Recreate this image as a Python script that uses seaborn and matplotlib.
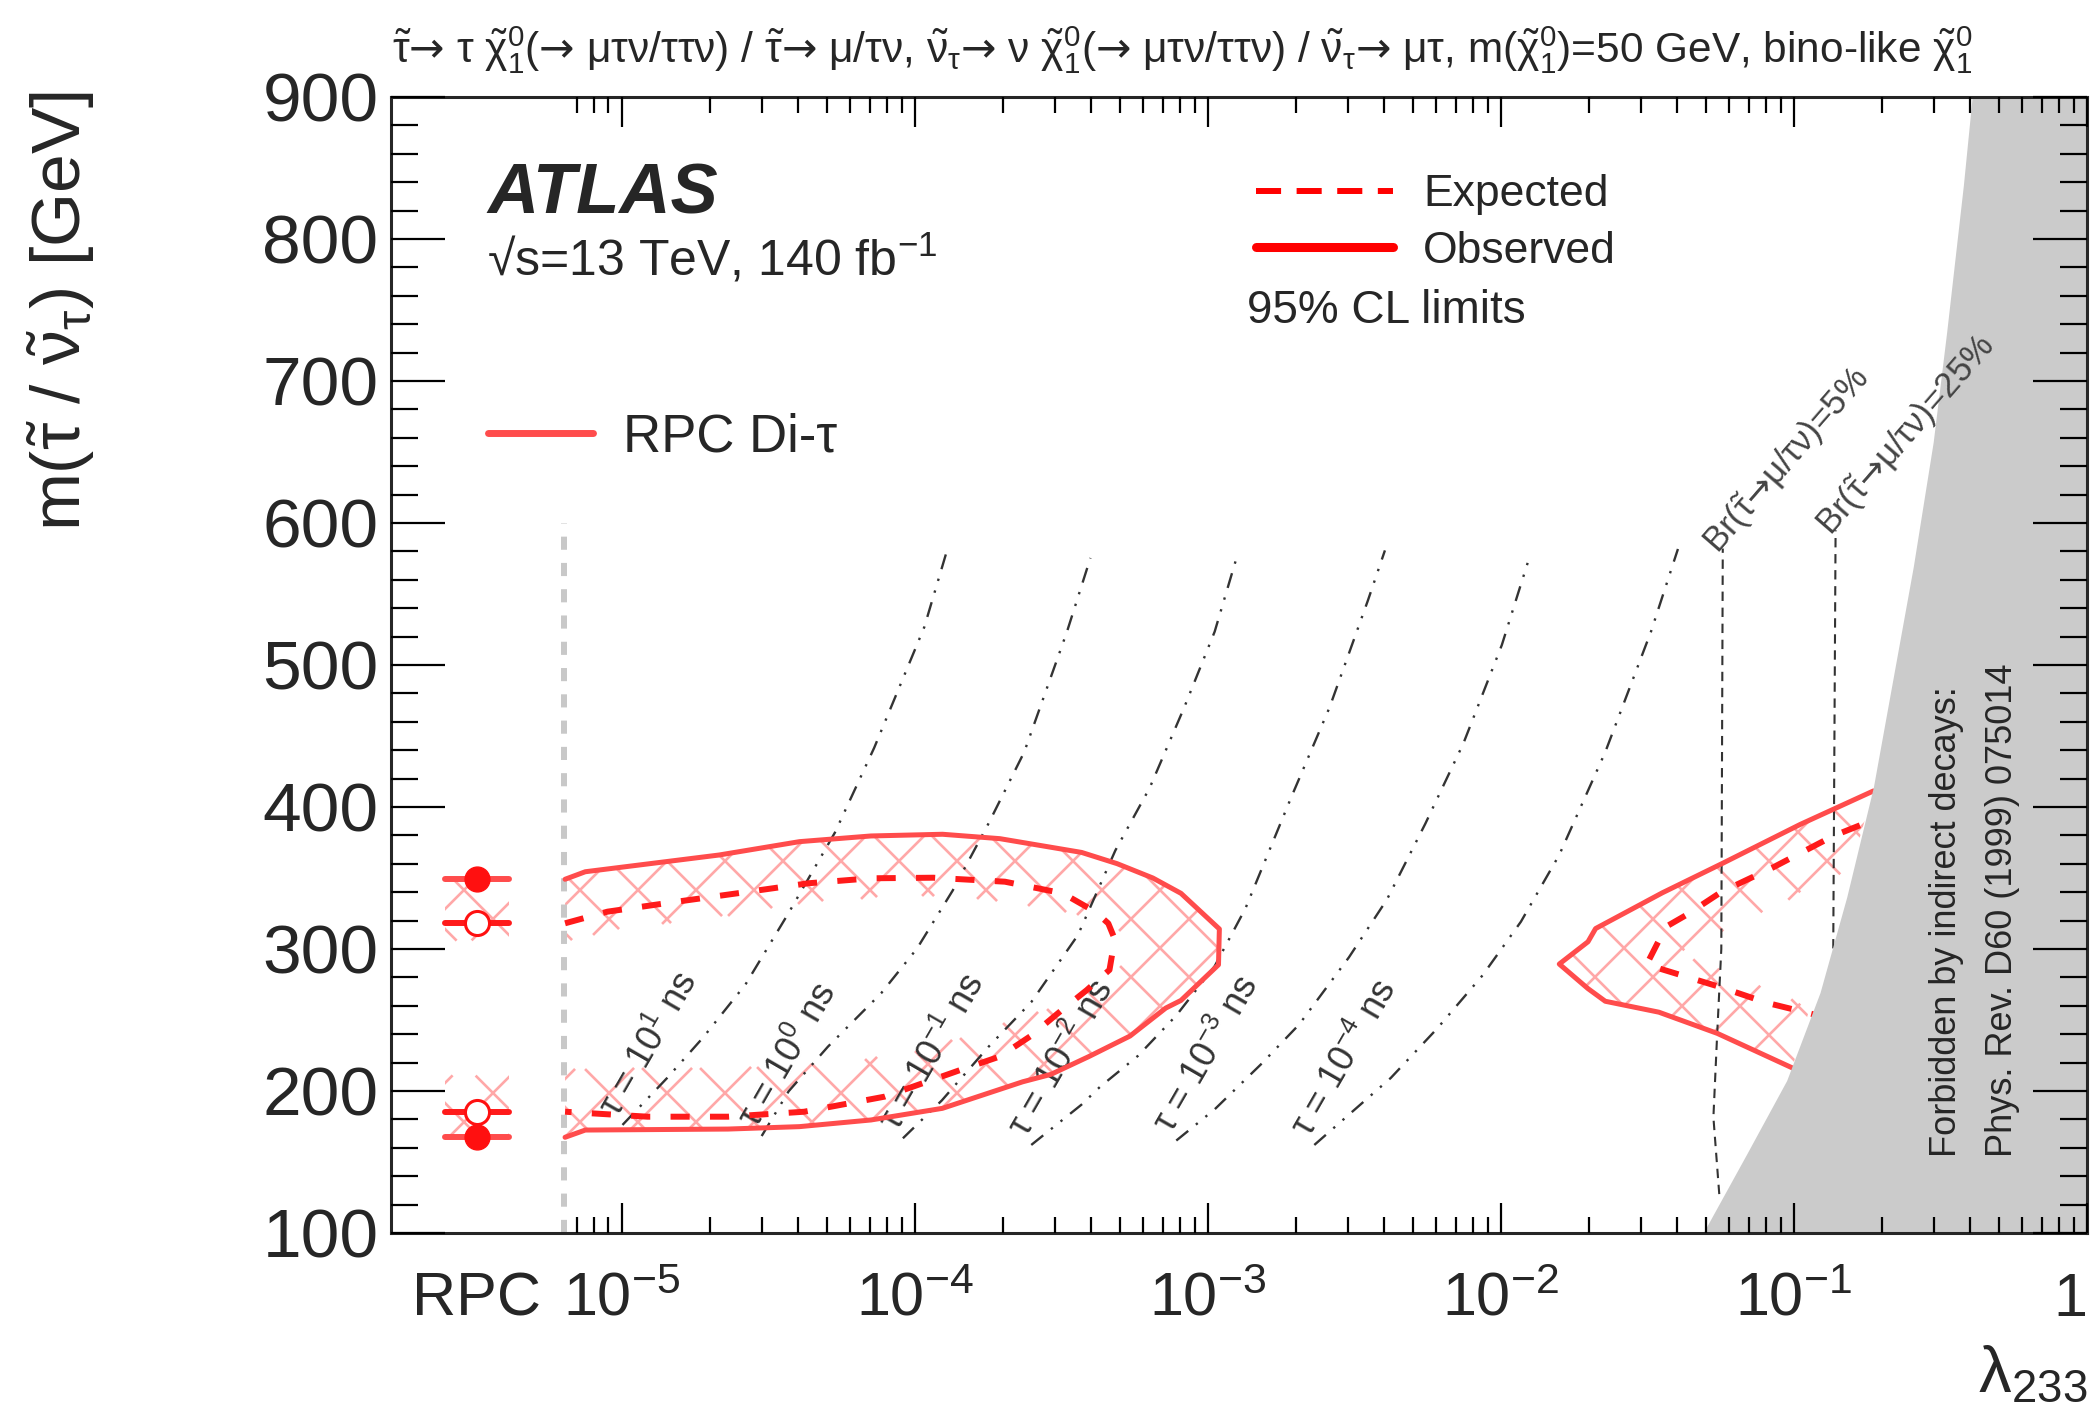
import numpy as np
import matplotlib
matplotlib.use("Agg")
import matplotlib.pyplot as plt
import seaborn as sns
from matplotlib.lines import Line2D
from matplotlib.collections import LineCollection
from matplotlib.path import Path
from matplotlib.transforms import IdentityTransform
from matplotlib.ticker import FixedLocator, NullFormatter

# ---------------------------------------------------------------------------
# Data (x: log10 of lambda_233, y: slepton / sneutrino mass in GeV)
# ---------------------------------------------------------------------------
obs_left_log_lam = [-5.194, -5.125, -4.668, -4.394, -4.150, -3.906, -3.710, -3.431,
                    -3.310, -3.188, -3.092, -2.961, -2.964, -3.092, -3.144, -3.266,
                    -3.406, -3.536, -3.632, -3.906, -4.150, -4.394, -4.638, -5.125, -5.194]
obs_left_mass = [349.1, 354.4, 366.2, 375.6, 379.6, 380.8, 377.7, 368.0,
                 360.1, 350.0, 339.2, 314.1, 288.9, 263.8, 258.4, 238.7,
                 224.3, 211.7, 206.5, 187.8, 179.6, 174.9, 173.2, 172.5, 167.4]

exp_left_log_lam = [-5.194, -5.049, -4.851, -4.607, -4.363, -4.150, -3.937, -3.693,
                    -3.495, -3.383, -3.340, -3.318, -3.336, -3.414, -3.501, -3.605,
                    -3.710, -3.845, -4.104, -4.378, -4.638, -4.912, -5.194]
exp_left_mass = [318.1, 326.3, 332.2, 339.2, 346.3, 349.8, 350.2, 347.4,
                 339.2, 326.0, 318.0, 306.9, 285.3, 271.0, 256.6, 238.7,
                 224.3, 214.8, 196.0, 185.4, 181.9, 181.9, 185.4]

obs_right_log_lam = [-0.729, -0.979, -1.246, -1.449, -1.677, -1.703, -1.801,
                     -1.703, -1.644, -1.461, -1.262, -1.006]
obs_right_mass = [411.3, 387.7, 360.1, 339.6, 314.4, 305.1, 289.4,
                  272.1, 263.2, 255.5, 240.6, 216.3]

exp_right_log_lam = [-0.775, -0.866, -1.071, -1.247, -1.366, -1.434, -1.463,
                     -1.503, -1.247, -1.093, -0.934]
exp_right_mass = [387.1, 379.6, 357.5, 340.3, 324.1, 316.0, 305.2,
                  289.0, 272.9, 262.1, 254.0]

# Prompt (RPC) di-tau limits
rpc_log_lam = -5.495
rpc_obs_mass = [349.1, 167.4]
rpc_exp_mass = [318.1, 185.4]
rpc_boundary_log_lam = -5.198
rpc_boundary_mass = [100, 600]

# Lifetime iso-lines
tau_labels = ["1", "0", "-1", "-2", "-3", "-4"]
tau_p1_log_lam = [-4.998, -4.846, -4.724, -4.578, -4.431, -4.273, -4.139, -3.968, -3.889]
tau_p1_mass = [176.1, 209.1, 237.4, 275.1, 325.4, 382.0, 441.7, 526.7, 581.7]
tau_0_log_lam = [-4.523, -4.431, -4.297, -4.115, -3.993, -3.871, -3.749, -3.627, -3.481, -3.401]
tau_0_mass = [168.3, 199.8, 231.2, 268.9, 300.3, 341.2, 388.3, 438.7, 523.5, 575.4]
tau_m1_log_lam = [-4.041, -3.908, -3.749, -3.603, -3.444, -3.316, -3.199, -3.081, -2.977, -2.898]
tau_m1_mass = [166.7, 193.4, 231.1, 262.6, 309.7, 369.4, 413.4, 470.1, 523.5, 578.5]
tau_m2_log_lam = [-3.603, -3.432, -3.369, -3.238, -3.108, -2.977, -2.872, -2.715, -2.585, -2.454, -2.396]
tau_m2_mass = [162.0, 190.3, 202.8, 224.9, 253.2, 287.9, 328.6, 407.2, 470.1, 545.5, 580.7]
tau_m3_log_lam = [-3.108, -2.977, -2.820, -2.689, -2.519, -2.389, -2.258, -2.128, -1.997, -1.906]
tau_m3_mass = [165.1, 187.1, 218.6, 246.8, 294.1, 334.9, 388.3, 444.9, 514.1, 573.8]
tau_m4_log_lam = [-2.637, -2.533, -2.376, -2.219, -2.063, -1.932, -1.801, -1.644, -1.488, -1.396]
tau_m4_mass = [162.0, 180.8, 209.2, 243.7, 281.4, 319.2, 366.3, 438.7, 523.5, 581.7]

# Branching-ratio iso-lines
br_labels = ["5%", "25%"]
br5_log_lam = [-1.255, -1.275, -1.262, -1.248, -1.243]
br5_mass = [127.4, 181.5, 240.6, 300.0, 582.0]
br25_log_lam = [-0.866, -0.858]
br25_mass = [300.4, 594.9]

# Region forbidden by indirect decays (boundary in lambda vs mass)
forbidden_mass = [100, 155.8, 207.4, 269.4, 336.6, 414.1, 491.6, 569.1, 656.9, 734.4, 837.7, 900]
forbidden_log_lam = [-1.31, -1.161, -1.025, -0.911, -0.820, -0.729, -0.661, -0.593,
                     -0.525, -0.479, -0.422, -0.392]

x_tick_labels = ["RPC", r"$10^{-5}$", r"$10^{-4}$", r"$10^{-3}$", r"$10^{-2}$", r"$10^{-1}$", "1"]

# ---------------------------------------------------------------------------
# Style
# ---------------------------------------------------------------------------
sns.set_theme(style="ticks")
plt.rcParams["font.family"] = ["Liberation Sans", "DejaVu Sans"]
plt.rcParams["mathtext.fontset"] = "custom"
plt.rcParams["mathtext.rm"] = "Liberation Sans"
plt.rcParams["mathtext.it"] = "Liberation Sans:italic"
plt.rcParams["mathtext.bf"] = "Liberation Sans:bold"
plt.rcParams["mathtext.sf"] = "Liberation Sans"
plt.rcParams["mathtext.cal"] = "DejaVu Sans"   # used for the wide arrow glyph
plt.rcParams["mathtext.default"] = "regular"

ARW = r"$\mathcal{→}$"

OBS_C = "#ff4c4c"
EXP_C = "#ff1a1a"
HATCH_C = "#ffa8a8"
LINE_C = "#333333"
GRAY_C = "#cbcbcb"

W, H = 2091, 1412
DPI = 100
fig = plt.figure(figsize=(W / DPI, H / DPI), dpi=DPI)


def fx(x):
    return x / W


def fy(y):
    return 1 - y / H


ax = fig.add_axes([fx(391), fy(1233), (2087 - 391) / W, (1233 - 97) / H])
ax.set_xscale("log")
ax.set_xlim(10 ** -5.788, 1.0)
ax.set_ylim(100, 900)
ax.autoscale(False)


def L(a):
    return 10 ** np.asarray(a, dtype=float)


def line(xlog, y, color, lw, ls=None, z=3):
    sns.lineplot(x=L(xlog), y=np.asarray(y, float), sort=False, estimator=None,
                 color=color, linewidth=lw, ax=ax, legend=False)
    ln = ax.lines[-1]
    if ls is not None:
        ln.set_linestyle(ls)
    ln.set_zorder(z)
    return ln


def seg_distance(pts, poly):
    d = np.full(len(pts), np.inf)
    for a, b in zip(poly[:-1], poly[1:]):
        ab = b - a
        t = np.clip(((pts - a) @ ab) / max(ab @ ab, 1e-9), 0, 1)
        proj = a + t[:, None] * ab
        d = np.minimum(d, np.hypot(*(pts - proj).T))
    return d


def hatch_band(polylines, polygon, width=62, spacing=58, lw=1.9):
    """Cross-hatch a band of given pixel width on the inner side of limit lines."""
    disp = [ax.transData.transform(np.column_stack([L(px), py])) for px, py in polylines]
    poly = ax.transData.transform(np.column_stack([L(polygon[0]), polygon[1]]))
    allp = np.vstack(disp)
    xmin, ymin = allp.min(0) - width
    xmax, ymax = allp.max(0) + width
    xs = np.arange(xmin, xmax, 1.0)
    segs = []
    for sgn in (1, -1):
        corners = np.array([[xmin, ymin], [xmin, ymax], [xmax, ymin], [xmax, ymax]])
        cv = corners[:, 1] - sgn * corners[:, 0]
        c0 = np.floor(cv.min() / spacing) * spacing
        for c in np.arange(c0, cv.max() + spacing, spacing):
            ys = sgn * xs + c
            ok = (ys >= ymin) & (ys <= ymax)
            if not ok.any():
                continue
            pts = np.column_stack([xs[ok], ys[ok]])
            d = np.min([seg_distance(pts, p) for p in disp], axis=0)
            idx = np.flatnonzero(d <= width)
            if idx.size < 2:
                continue
            breaks = np.flatnonzero(np.diff(idx) > 1)
            starts = np.r_[0, breaks + 1]
            ends = np.r_[breaks, idx.size - 1]
            for s, e in zip(starts, ends):
                if e > s:
                    segs.append(pts[idx[s]:idx[e] + 1])
    lc = LineCollection(segs, colors=HATCH_C, linewidths=lw, transform=IdentityTransform(),
                        zorder=1.5)
    ax.add_collection(lc, autolim=False)
    lc.set_clip_path(Path(np.vstack([poly, poly[:1]]), closed=True), IdentityTransform())


# ---------------------------------------------------------------------------
# Hatched excluded bands
# ---------------------------------------------------------------------------
hatch_band([(obs_left_log_lam, obs_left_mass)], (obs_left_log_lam, obs_left_mass))
hatch_band([(obs_right_log_lam, obs_right_mass)], (obs_right_log_lam, obs_right_mass))
rpc_x0, rpc_x1 = rpc_log_lam - 0.11, rpc_log_lam + 0.111
hatch_band([([rpc_x0, rpc_x1], [rpc_obs_mass[0]] * 2), ([rpc_x0, rpc_x1], [rpc_obs_mass[1]] * 2)],
           ([rpc_x0, rpc_x1, rpc_x1, rpc_x0],
            [rpc_obs_mass[0], rpc_obs_mass[0], rpc_obs_mass[1], rpc_obs_mass[1]]))

# ---------------------------------------------------------------------------
# Lifetime and branching-ratio iso-lines
# ---------------------------------------------------------------------------
dashdotdot = (0, (6.5, 4.2, 1.0, 4.2, 1.0, 4.2))
tau_curves = [(tau_p1_log_lam, tau_p1_mass), (tau_0_log_lam, tau_0_mass),
              (tau_m1_log_lam, tau_m1_mass), (tau_m2_log_lam, tau_m2_mass),
              (tau_m3_log_lam, tau_m3_mass), (tau_m4_log_lam, tau_m4_mass)]
for (lx, ly), lab in zip(tau_curves, tau_labels):
    line(lx, ly, LINE_C, 1.7, dashdotdot, z=2)
    ax.annotate(r"$\tau$ = $10^{%s}$ ns" % lab, xy=(L(lx[0]), ly[0]), xytext=(-3, 4),
                textcoords="offset points", rotation=60, rotation_mode="anchor",
                ha="left", va="baseline", fontsize=26, color=LINE_C, zorder=2)

for (bx, by), lab in zip([(br5_log_lam, br5_mass), (br25_log_lam, br25_mass)], br_labels):
    line(bx, by, LINE_C, 1.5, (0, (4.5, 3.2)), z=2)
    ax.annotate(r"Br($\tilde{\tau}$" + ARW + "μ/τν)=" + lab,
                xy=(L(bx[-1]), by[-1]), xytext=(-3, -5), textcoords="offset points",
                rotation=49, rotation_mode="anchor", ha="left", va="baseline",
                fontsize=25, color="#444444", zorder=5)

# separator between prompt and displaced regions
line([rpc_boundary_log_lam] * 2, rpc_boundary_mass, "#c8c8c8", 4.3, (0, (2.2, 2.2)), z=2)

# ---------------------------------------------------------------------------
# Limit contours
# ---------------------------------------------------------------------------
exp_dash = (0, (3.2, 3.4))
line(exp_left_log_lam, exp_left_mass, EXP_C, 4.3, exp_dash, z=3)
line(exp_right_log_lam, exp_right_mass, EXP_C, 4.3, exp_dash, z=3)
line(obs_left_log_lam, obs_left_mass, OBS_C, 3.6, z=3.5)
line(obs_right_log_lam, obs_right_mass, OBS_C, 3.6, z=3.5)

# RPC points
for mo in rpc_obs_mass:
    line([rpc_x0, rpc_x1], [mo, mo], OBS_C, 4.3, z=4.5)
for me in rpc_exp_mass:
    line([rpc_x0, rpc_x1], [me, me], EXP_C, 4.3, z=4.5)
sns.scatterplot(x=L([rpc_log_lam] * 2), y=rpc_obs_mass, color="#ff1010", s=320,
                edgecolor="#ff1010", linewidth=1, ax=ax, zorder=5, legend=False)
sns.scatterplot(x=L([rpc_log_lam] * 2), y=rpc_exp_mass, color="white", s=300,
                edgecolor="#ff1010", linewidth=2.2, ax=ax, zorder=5, legend=False)

# Forbidden region
ax.fill_betweenx(forbidden_mass, L(forbidden_log_lam), 1.0, color=GRAY_C, lw=0, zorder=4)
fig.text(fx(1947), fy(1157), "Forbidden by indirect decays:", rotation=90,
         ha="center", va="bottom", fontsize=26, zorder=6)
fig.text(fx(2003), fy(1157), "Phys. Rev. D60 (1999) 075014", rotation=90,
         ha="center", va="bottom", fontsize=26, zorder=6)

# ---------------------------------------------------------------------------
# Axes, ticks
# ---------------------------------------------------------------------------
major_x = [10 ** rpc_log_lam, 1e-5, 1e-4, 1e-3, 1e-2, 1e-1, 1.0]
ax.xaxis.set_major_locator(FixedLocator(major_x))
ax.set_xticklabels(x_tick_labels)
ax.get_xticklabels()[-1].set_horizontalalignment("right")
minor_x = [k * 10.0 ** e for e in range(-6, 0) for k in range(2, 10) if k * 10.0 ** e > 6.5e-6]
ax.xaxis.set_minor_locator(FixedLocator(minor_x))
ax.xaxis.set_minor_formatter(NullFormatter())
ax.set_yticks(np.arange(100, 901, 100))
ax.yaxis.set_minor_locator(FixedLocator(np.arange(100, 901, 20)))

ax.tick_params(axis="both", which="both", direction="in", top=True, right=True,
               width=1.6, color="black")
ax.tick_params(axis="y", which="major", length=39, labelsize=50, pad=9)
ax.tick_params(axis="y", which="minor", length=19.5)
ax.tick_params(axis="x", which="major", length=21.6, labelsize=44, pad=28)
ax.tick_params(axis="x", which="minor", length=11.5)
t0 = ax.xaxis.get_major_ticks()[0]
t0.tick1line.set_visible(False)
t0.tick2line.set_visible(False)
for sp in ax.spines.values():
    sp.set_linewidth(2.2)
    sp.set_zorder(6)
ax.xaxis.set_zorder(6)
ax.yaxis.set_zorder(6)
ax.set_xlabel("")
ax.set_ylabel("")

fig.text(fx(2087), fy(1392), r"$\lambda_{233}$", ha="right", va="baseline", fontsize=47)
fig.text(fx(61), fy(91), r"m($\tilde{\tau}$ / $\tilde{\nu}_{\tau}$) [GeV]", rotation=90,
         ha="center", va="top", fontsize=50)

title = (r"$\tilde{\tau}$" + ARW + r" τ $\tilde{\chi}^{0}_{1}$(" + ARW + r" μτν/ττν) / $\tilde{\tau}$"
         + ARW + r" μ/τν, $\tilde{\nu}_{\tau}$" + ARW + r" ν $\tilde{\chi}^{0}_{1}$(" + ARW
         + r" μτν/ττν) / $\tilde{\nu}_{\tau}$" + ARW
         + r" μτ, m($\tilde{\chi}^{0}_{1}$)=50 GeV, bino-like $\tilde{\chi}^{0}_{1}$")
fig.text(fx(1182), fy(63), title, ha="center", va="baseline", fontsize=30.5)

# ATLAS label and legends
fig.text(fx(487), fy(213), "ATLAS", fontsize=51, weight="bold", style="italic", va="baseline")
fig.text(fx(487), fy(276), r"√s=13 TeV, 140 fb$^{-1}$", fontsize=36, va="baseline")

h_exp = Line2D([], [], color="#ff0000", lw=4.3, ls=(0, (4.2, 2.6)))
h_obs = Line2D([], [], color="#ff0000", lw=6.5)
leg1 = ax.legend([h_exp, h_obs], ["Expected", "Observed"], loc="center left",
                 bbox_to_anchor=(fx(1256), fy(223)), bbox_transform=fig.transFigure,
                 frameon=False, fontsize=32, handlelength=3.08, handletextpad=0.68,
                 labelspacing=0.34, borderpad=0, borderaxespad=0)
ax.add_artist(leg1)
h_rpc = Line2D([], [], color=OBS_C, lw=5)
ax.legend([h_rpc], [r"RPC Di-τ"], loc="center left",
          bbox_to_anchor=(fx(488), fy(437)), bbox_transform=fig.transFigure,
          frameon=False, fontsize=38, handlelength=105 / 52.8, handletextpad=0.57,
          borderpad=0, borderaxespad=0)
fig.text(fx(1247), fy(311), "95% CL limits", fontsize=33, va="center")

fig.savefig("out.png", dpi=DPI)
